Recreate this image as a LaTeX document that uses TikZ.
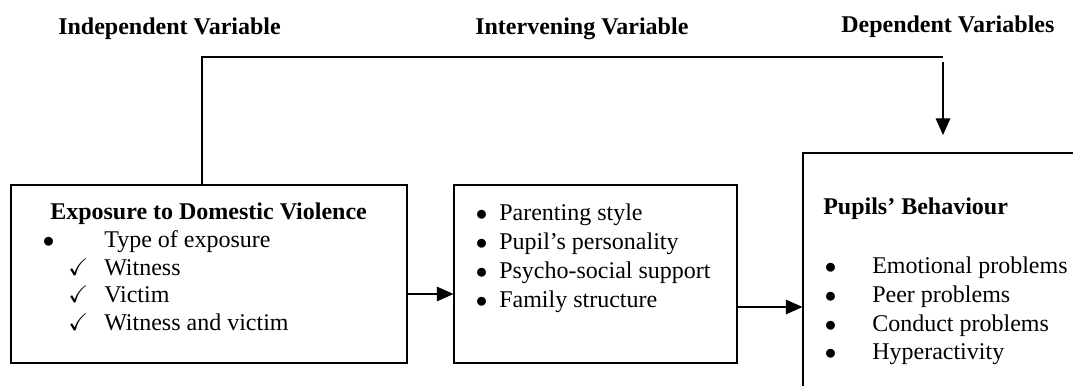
\documentclass[tikz,border=0pt]{standalone}
\usepackage{amssymb}
\usepackage{fontspec}
\setmainfont{Liberation Serif}
\usetikzlibrary{arrows.meta}
\newcommand{\bul}{$\bullet$}
\tikzset{
  box/.style={draw=black, line width=0.85pt, rectangle, inner sep=0pt},
  txt/.style={inner sep=0pt, anchor=base west, font=\fontsize{18pt}{20pt}\selectfont},
  hdr/.style={txt, font=\fontsize{18pt}{20pt}\selectfont\bfseries},
  conn/.style={draw=black, line width=0.85pt},
  arr/.style={conn, -{Triangle[length=12.5pt,width=11pt]}},
}
\begin{document}
\begin{tikzpicture}[x=0.75pt,y=-0.75pt]
\useasboundingbox (0,0) rectangle (1073,385);
\clip (0,0) rectangle (1073,385);
\fill[white] (0,0) rectangle (1073,385);
% headers
\node[hdr] (h1) at (58,35) {Independent Variable};
\node[hdr] (h2) at (475,35) {Intervening Variable};
\node[hdr] (h3) at (841,33) {Dependent Variables};
% boxes
\node[box, minimum width=297pt, minimum height=133.5pt] (iv) at (209,274) {};
\node[box, minimum width=212.25pt, minimum height=133.5pt] (mv) at (595.5,274) {};
\node[box, minimum width=219pt, minimum height=189pt] (dv) at (949,279) {};
% box 1 text
\node[hdr] (t1) at (50,219) {Exposure to Domestic Violence};
\node[txt] (b1) at (42.7,247) {\bul};
\node[txt] (t2) at (104,247) {Type of exposure};
\node[txt] (k1) at (68,275) {$\checkmark$};
\node[txt] (t3) at (104,275) {Witness};
\node[txt] (k2) at (68,302) {$\checkmark$};
\node[txt] (t4) at (104,302) {Victim};
\node[txt] (k3) at (68,330) {$\checkmark$};
\node[txt] (t5) at (104,330) {Witness and victim};
% box 2 text
\node[txt] (mb1) at (475.7,220) {\bul};
\node[txt] (m1) at (499,220) {Parenting style};
\node[txt] (mb2) at (475.7,249) {\bul};
\node[txt] (m2) at (499,249) {Pupil’s personality};
\node[txt] (mb3) at (475.7,278) {\bul};
\node[txt] (m3) at (499,278) {Psycho-social support};
\node[txt] (mb4) at (475.7,307) {\bul};
\node[txt] (m4) at (499,307) {Family structure};
% box 3 text
\node[hdr] (d0) at (823,214) {Pupils’ Behaviour};
\node[txt] (db1) at (824.7,273) {\bul};
\node[txt] (d1) at (872,273) {Emotional problems};
\node[txt] (db2) at (824.7,302) {\bul};
\node[txt] (d2) at (872,302) {Peer problems};
\node[txt] (db3) at (824.7,331) {\bul};
\node[txt] (d3) at (872,331) {Conduct problems};
\node[txt] (db4) at (824.7,359) {\bul};
\node[txt] (d4) at (872,359) {Hyperactivity};
% connectors
\coordinate (c1) at (202,57);
\coordinate (c2) at (943,57);
\coordinate (c3) at (943,62);
\coordinate (c4) at (943,135);
\coordinate (y1) at (430,294);
\coordinate (y2) at (770,307);
\draw[conn] (iv.north -| c1) -- (c1) -- (c2);
\draw[arr] (c3) -- (c4);
\draw[arr] (iv.east |- y1) -- (mv.west |- y1);
\draw[arr] (mv.east |- y2) -- (dv.west |- y2);
\end{tikzpicture}
\end{document}
